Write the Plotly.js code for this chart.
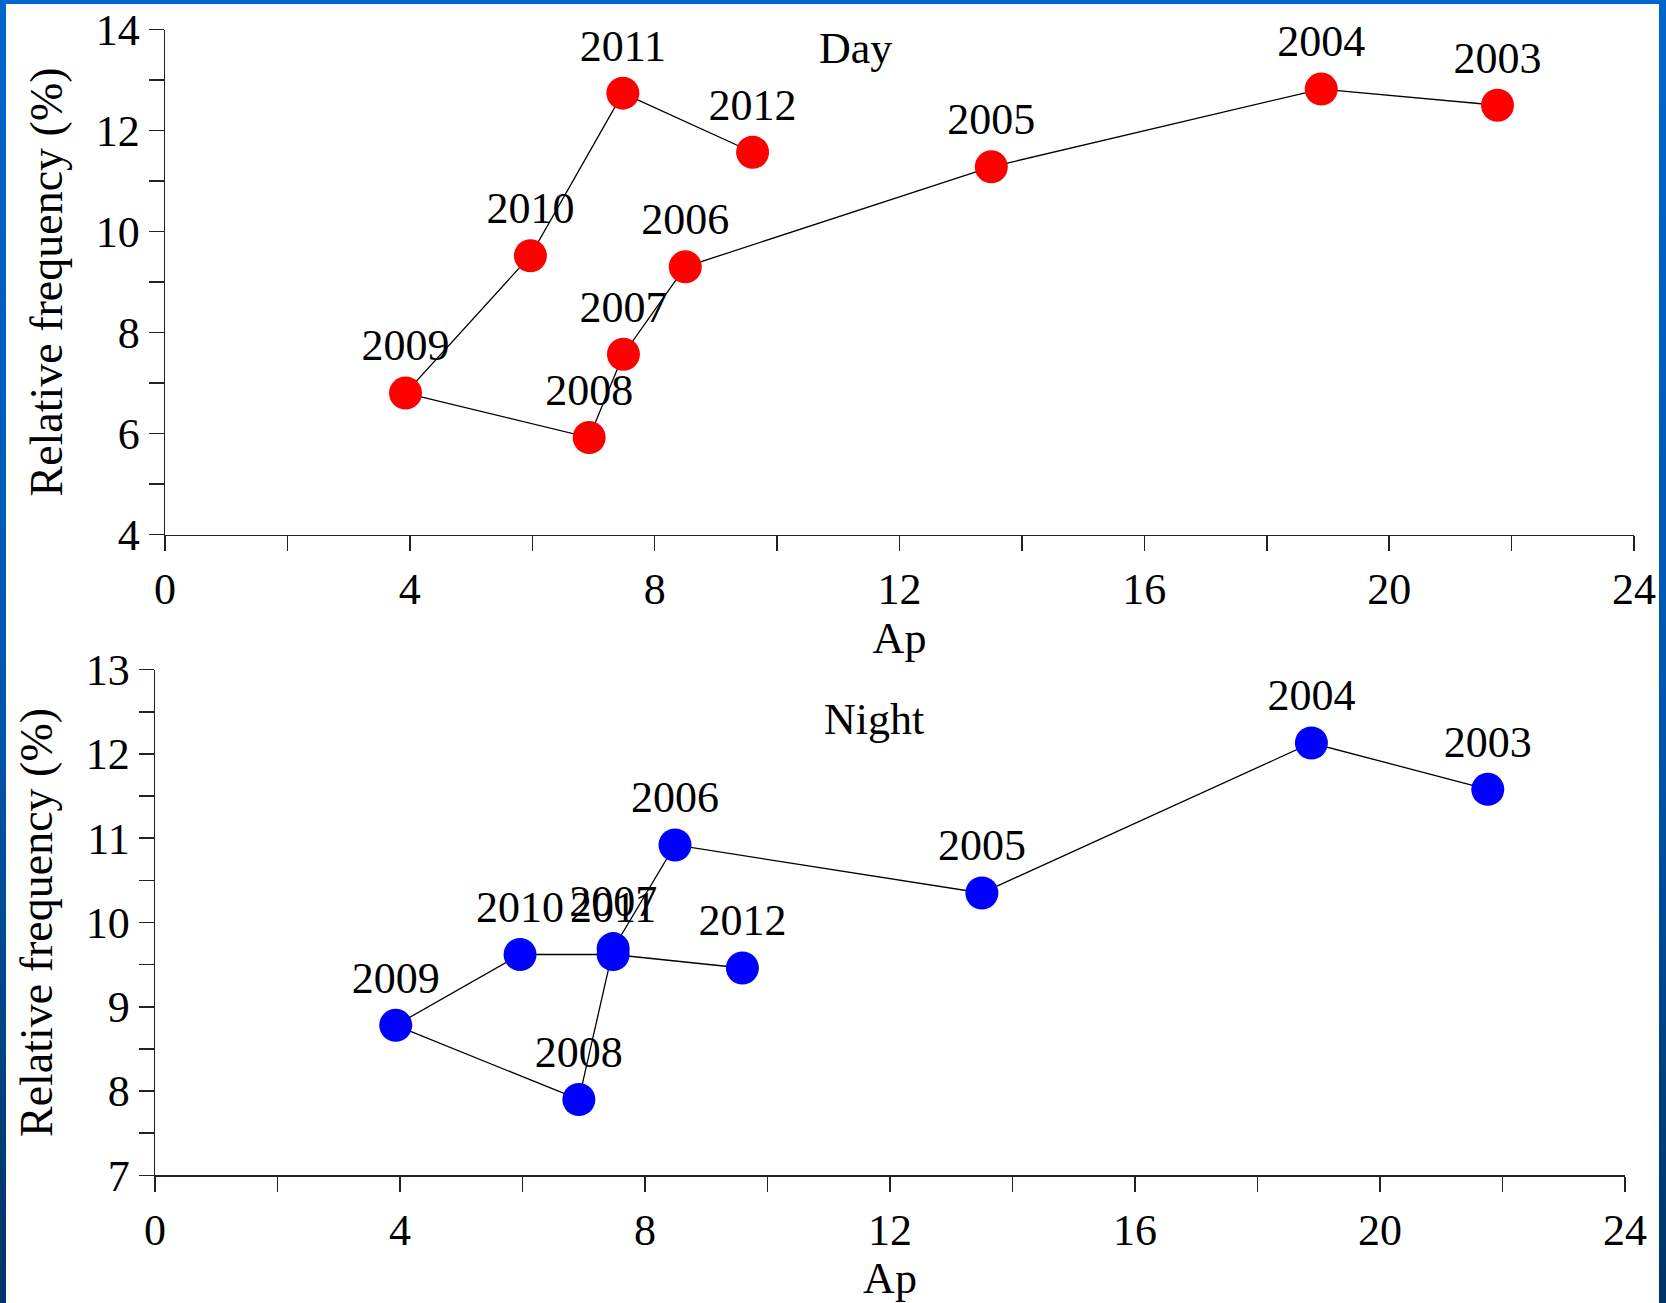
<!DOCTYPE html>
<html>
<head>
<meta charset="utf-8">
<script src="https://cdn.plot.ly/plotly-3.0.1.min.js"></script>
<style>
  html, body { margin: 0; padding: 0; }
  body { width: 1666px; height: 1303px; background: linear-gradient(#0066cc, #0056ae 55%, #003366); overflow: hidden; }
  #chart { width: 1666px; height: 1303px; }
</style>
</head>
<body>
<div id="chart"></div>
<script>
// ---- data ----
var years = ['2003', '2004', '2005', '2006', '2007', '2008', '2009', '2010', '2011', '2012'];
var dayAp = [21.77, 18.89, 13.50, 8.50, 7.49, 6.93, 3.93, 5.97, 7.48, 9.60];
var dayFreq = [12.50, 12.82, 11.28, 9.30, 7.57, 5.92, 6.80, 9.52, 12.74, 11.57];
var nightAp = [21.76, 18.88, 13.50, 8.49, 7.48, 6.92, 3.93, 5.96, 7.48, 9.59];
var nightFreq = [11.58, 12.13, 10.35, 10.92, 9.69, 7.90, 8.78, 9.62, 9.62, 9.46];
var panelLabels = ['Day', 'Night'];
var xTitle = 'Ap';
var yTitle = 'Relative frequency (%)';

var FONT = 'Liberation Serif, Times New Roman, serif';
var W = 1666, H = 1303;

function trace(x, y, color, xa, ya) {
  return {
    type: 'scatter', mode: 'lines+markers+text',
    x: x, y: y, text: years, textposition: 'top center',
    textfont: {family: FONT, size: 44, color: '#000'},
    line: {color: '#000', width: 1.3},
    marker: {color: color, size: 33, line: {width: 0}},
    xaxis: xa, yaxis: ya, cliponaxis: false, hoverinfo: 'x+y+text'
  };
}

function xaxisDef(domain, anchor) {
  return {
    domain: domain, anchor: anchor, range: [0, 24], dtick: 4, tick0: 0,
    ticks: 'outside', ticklen: 15, tickwidth: 1.5, tickcolor: '#222',
    minor: {dtick: 2, tick0: 0, ticks: 'outside', ticklen: 15, tickwidth: 1.5, tickcolor: '#222'},
    showline: true, linecolor: '#222', linewidth: 1.5, showgrid: false, zeroline: false,
    tickfont: {family: FONT, size: 44, color: '#000'},
    title: {text: xTitle, font: {family: FONT, size: 44, color: '#000'}, standoff: 2}
  };
}
function yaxisDef(domain, anchor, range, dtick, minorDtick) {
  return {
    domain: domain, anchor: anchor, range: range, dtick: dtick, tick0: 0,
    ticks: 'outside', ticklen: 15, tickwidth: 1.5, tickcolor: '#222',
    minor: {dtick: minorDtick, tick0: 0, ticks: 'outside', ticklen: 15, tickwidth: 1.5, tickcolor: '#222'},
    showline: true, linecolor: '#222', linewidth: 1.5, showgrid: false, zeroline: false,
    tickfont: {family: FONT, size: 44, color: '#000'},
    title: {text: yTitle, font: {family: FONT, size: 46, color: '#000'}, standoff: 18}
  };
}

var data = [
  trace(dayAp, dayFreq, '#ff0000', 'x', 'y'),
  trace(nightAp, nightFreq, '#0000ff', 'x2', 'y2')
];

var layout = {
  width: W, height: H,
  margin: {l: 0, r: 0, t: 0, b: 0},
  paper_bgcolor: 'rgba(0,0,0,0)', plot_bgcolor: 'rgba(0,0,0,0)',
  showlegend: false,
  font: {family: FONT, color: '#000'},
  xaxis: xaxisDef([165 / W, 1634 / W], 'y'),
  yaxis: yaxisDef([1 - 534.5 / H, 1 - 29.5 / H], 'x', [4, 14], 2, 1),
  xaxis2: xaxisDef([155 / W, 1625 / W], 'y2'),
  yaxis2: yaxisDef([1 - 1175.3 / H, 1 - 669.7 / H], 'x2', [7, 13], 1, 0.5),
  shapes: [
    {type: 'rect', xref: 'paper', yref: 'paper', x0: 6 / W, x1: 1659 / W, y0: -0.01, y1: 1 - 4 / H,
     fillcolor: '#ffffff', line: {width: 0}, layer: 'below'}
  ],
  annotations: [
    {text: panelLabels[0], x: 11.28, y: 13.63, xref: 'x', yref: 'y', showarrow: false,
     font: {family: FONT, size: 44, color: '#000'}},
    {text: panelLabels[1], x: 11.74, y: 12.41, xref: 'x2', yref: 'y2', showarrow: false,
     font: {family: FONT, size: 44, color: '#000'}}
  ]
};

Plotly.newPlot('chart', data, layout, {displayModeBar: false, staticPlot: true});
</script>
</body>
</html>
